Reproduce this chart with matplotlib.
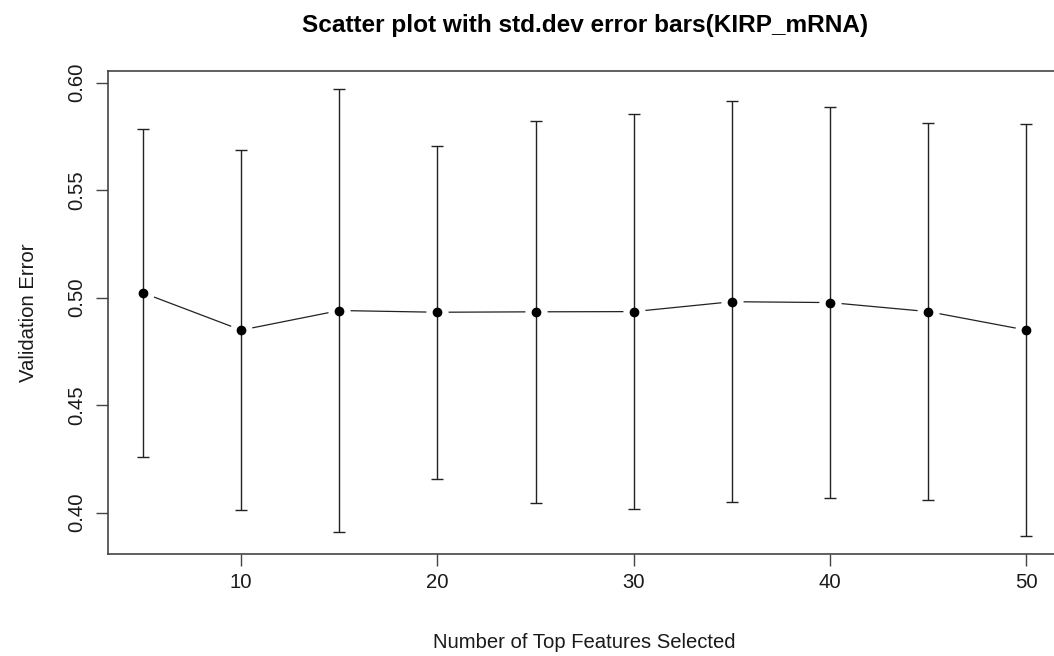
import matplotlib
matplotlib.use("Agg")
import matplotlib.pyplot as plt
import numpy as np

# values
n_features = [5, 10, 15, 20, 25, 30, 35, 40, 45, 50]
val_error = [0.5022, 0.4849, 0.4940, 0.4932, 0.4934, 0.4935, 0.4981, 0.4977, 0.4935, 0.4849]
std_dev = [0.0761, 0.0838, 0.1032, 0.0775, 0.0889, 0.0919, 0.0933, 0.0909, 0.0877, 0.0958]
y_ticks = [0.40, 0.45, 0.50, 0.55, 0.60]
x_ticks = [10, 20, 30, 40, 50]

plt.rcParams['font.family'] = ['Liberation Sans', 'DejaVu Sans']

fig = plt.figure(figsize=(10.54, 6.56), dpi=100)
ax = fig.add_axes([0.1022, 0.1555, 0.9051, 0.7367])

x = np.array(n_features)
y = np.array(val_error)
sd = np.array(std_dev)

# R type="b": line with gaps round the points
ax.plot(x, y, color='#222222', lw=0.9, zorder=1)
ax.plot(x, y, 'o', ms=16, mfc='white', mec='none', zorder=2)
ax.errorbar(x, y, yerr=sd, fmt='none', ecolor='#222222', elinewidth=1.0,
            capsize=4.5, capthick=1.0, zorder=3)
ax.plot(x, y, 'o', ms=6, color='black', zorder=4)

ax.margins(x=0.04, y=0.04)
ax.set_xticks(x_ticks)
ax.set_yticks(y_ticks)
ax.set_yticklabels([f'{v:.2f}' for v in y_ticks], rotation=90, va='center')
ax.tick_params(axis='both', length=8.4, width=1.0, color='#444444',
               labelsize=14.6, labelcolor='#1a1a1a')
ax.tick_params(axis='y', pad=7)
ax.tick_params(axis='x', pad=5)

for s in ax.spines.values():
    s.set_color('#444444')
    s.set_linewidth(1.2)

ax.set_xlabel('Number of Top Features Selected', fontsize=14.6, color='#1a1a1a', labelpad=30)
ax.set_ylabel('Validation Error', fontsize=14.6, color='#1a1a1a', labelpad=21)
ax.set_title('Scatter plot with std.dev error bars(KIRP_mRNA)', fontsize=17.6,
             fontweight='bold', pad=28)

fig.savefig('out.png', dpi=100)
plt.close(fig)
